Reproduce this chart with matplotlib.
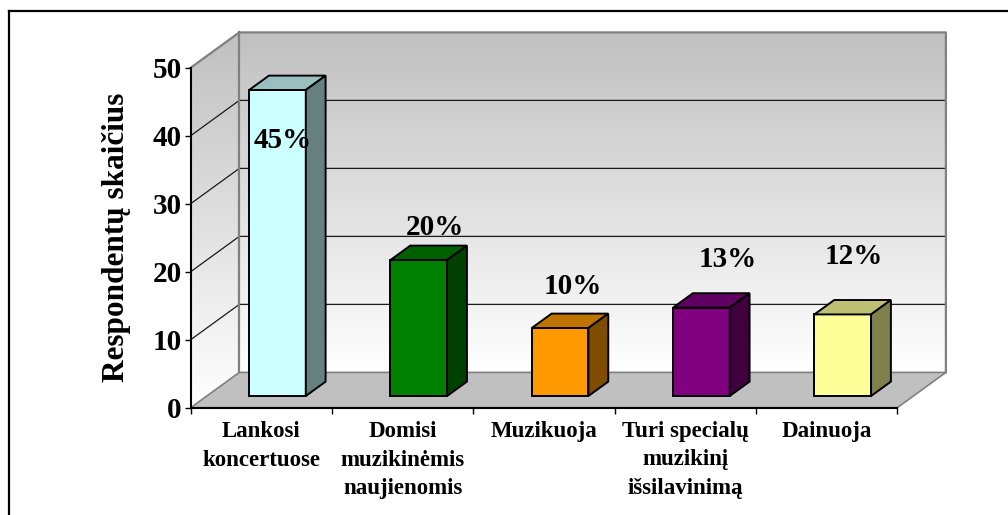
import numpy as np
import matplotlib
matplotlib.use("Agg")
import matplotlib.pyplot as plt
from matplotlib.patches import Polygon
from matplotlib.colors import to_rgb, LinearSegmentedColormap
from matplotlib.lines import Line2D

# ---------------- data ----------------
categories = ["Lankosi\nkoncertuose",
              "Domisi\nmuzikinėmis\nnaujienomis",
              "Muzikuoja",
              "Turi specialų\nmuzikinį\nišsilavinimą",
              "Dainuoja"]
values = [45, 20, 10, 13, 12]
pct_labels = ["45%", "20%", "10%", "13%", "12%"]
y_ticks = [0, 10, 20, 30, 40, 50]
y_label = "Respondentų skaičius"

# ---------------- style / layout ----------------
bar_colors = ["#CCFFFF", "#008000", "#FF9900", "#800080", "#FFFF99"]
label_dx = [0.153, 0.230, 0.202, 0.303, 0.194]     # label x shift (category units)
label_base = [38.2, 25.4, 16.7, 20.7, 21.1]         # label baseline (value units)

FONT = "Liberation Serif"
W, H = 1008, 515
fig = plt.figure(figsize=(W / 100, H / 100), dpi=100)
fig.patch.set_facecolor("white")

x0px, x1px = 190.7, 897.3
y0px, ppu = 407.7, 6.8
ymax = y_ticks[-1]
n = len(values)
ax = fig.add_axes([x0px / W, 1 - y0px / H, (x1px - x0px) / W, ymax * ppu / H])
ax.set_facecolor("none")

DX = 48.6 / ((x1px - x0px) / n)   # depth offset in category units
DY = 35.3 / ppu                    # depth offset in value units

# wall gradients
cmap = LinearSegmentedColormap.from_list("wall", ["#FFFFFF", "#C0C0C0"])
grad = np.linspace(0, 1, 256).reshape(-1, 1)

im_back = ax.imshow(grad, extent=(DX, n + DX, DY, ymax + DY), origin="lower",
                    cmap=cmap, aspect="auto", zorder=0.1, interpolation="bilinear")
im_back.set_clip_on(False)

side_poly = Polygon([(0, 0), (DX, DY), (DX, ymax + DY), (0, ymax)],
                    closed=True, transform=ax.transData)
im_side = ax.imshow(grad, extent=(0, DX, 0, ymax + DY), origin="lower",
                    cmap=cmap, aspect="auto", zorder=0.1, interpolation="bilinear")
im_side.set_clip_path(side_poly)
im_side.set_clip_box(fig.bbox)

# floor
floor = Polygon([(0, 0), (n, 0), (n + DX, DY), (DX, DY)], closed=True,
                fc="#C0C0C0", ec="#808080", lw=1.2, zorder=0.2, clip_on=False)
ax.add_patch(floor)

# gridlines
for v in y_ticks[1:-1]:
    ax.plot([0, DX, n + DX], [v, v + DY, v + DY], color="#1a1a1a", lw=0.9,
            clip_on=False, zorder=0.3)

# wall edges
ax.plot([0, DX, n + DX, n + DX], [ymax, ymax + DY, ymax + DY, DY],
        color="#808080", lw=1.6, clip_on=False, zorder=0.35)
ax.plot([DX, DX], [DY, ymax + DY], color="#808080", lw=1.6, clip_on=False, zorder=0.35)

# bars
f0, f1 = 0.331, 0.739
bw = 0.401
ddx, ddy = (f1 - f0) * DX, (f1 - f0) * DY
for i, (v, c) in enumerate(zip(values, bar_colors)):
    rgb = np.array(to_rgb(c))
    cx = i + 0.5 + f0 * DX
    xl, xr = cx - bw / 2, cx + bw / 2
    yb, yt = f0 * DY, v + f0 * DY
    front = Polygon([(xl, yb), (xr, yb), (xr, yt), (xl, yt)], closed=True,
                    fc=rgb, ec="black", lw=1.4, zorder=3, clip_on=False)
    top = Polygon([(xl, yt), (xr, yt), (xr + ddx, yt + ddy), (xl + ddx, yt + ddy)],
                  closed=True, fc=rgb * 0.75, ec="black", lw=1.4, zorder=3,
                  clip_on=False)
    side = Polygon([(xr, yb), (xr + ddx, yb + ddy), (xr + ddx, yt + ddy), (xr, yt)],
                   closed=True, fc=rgb * 0.5, ec="black", lw=1.4, zorder=3,
                   clip_on=False)
    for p in (front, top, side):
        ax.add_patch(p)
    ax.text(i + 0.5 + label_dx[i], label_base[i], pct_labels[i], ha="center",
            va="baseline", fontsize=21, fontweight="bold", family=FONT, zorder=5)

ax.set_xlim(0, n)
ax.set_ylim(0, ymax)

# axes / ticks
for s in ("top", "right"):
    ax.spines[s].set_visible(False)
for s in ("left", "bottom"):
    ax.spines[s].set_color("black")
    ax.spines[s].set_linewidth(1.5)
    ax.spines[s].set_zorder(2.5)

ax.set_yticks(y_ticks)
ax.set_yticklabels([str(t) for t in y_ticks], fontfamily=FONT,
                   fontweight="bold", fontsize=21)
ax.tick_params(axis="y", length=4, width=1, pad=2.5, colors="black")
ax.set_xticks(range(n + 1))
ax.set_xticklabels([])
ax.tick_params(axis="x", length=4, width=1, colors="black")

for i, cat in enumerate(categories):
    ax.text(i + 0.5, -2.0, cat, ha="center", va="top", fontsize=16.5,
            fontweight="bold", family=FONT, linespacing=1.45)

ax.set_ylabel(y_label, fontsize=22.5, fontweight="bold", family=FONT)
ax.yaxis.label.set_va("baseline")
ax.yaxis.set_label_coords((124 - x0px) / (x1px - x0px), (y0px - 237.5) / (ymax * ppu))

# outer frame (top and left edges visible)
fig.add_artist(Line2D([8.5 / W, 8.5 / W], [-0.01, 1 - 11 / H], transform=fig.transFigure,
                      color="black", lw=1.6))
fig.add_artist(Line2D([8.5 / W, 1.01], [1 - 11 / H, 1 - 11 / H], transform=fig.transFigure,
                      color="black", lw=1.6))

fig.savefig("out.png", dpi=100)
